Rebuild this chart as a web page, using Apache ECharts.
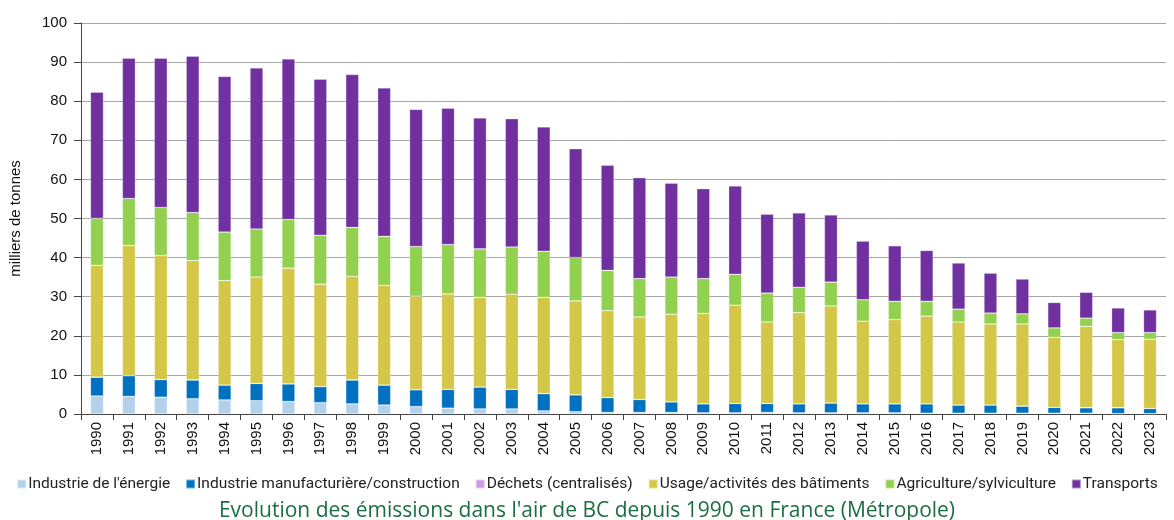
<!DOCTYPE html>
<html><head><meta charset="utf-8">
<script src="https://cdn.jsdelivr.net/npm/echarts@6/dist/echarts.min.js"></script>
<style>html,body{margin:0;padding:0;background:#fff}#c{width:1174px;height:520px}</style>
</head><body><div id="c"></div>
<script>
const years = ['1990','1991','1992','1993','1994','1995','1996','1997','1998','1999','2000','2001','2002','2003','2004','2005','2006','2007','2008','2009','2010','2011','2012','2013','2014','2015','2016','2017','2018','2019','2020','2021','2022','2023'];
const energie = [4.6,4.5,4.3,3.9,3.6,3.4,3.2,2.9,2.6,2.3,1.9,1.5,1.3,1.3,0.8,0.6,0.4,0.4,0.4,0.3,0.3,0.4,0.3,0.3,0.3,0.3,0.2,0.2,0.2,0.2,0.2,0.2,0.1,0.1];
const industrie = [4.8,5.3,4.5,4.8,3.8,4.4,4.5,4.1,6.1,5.1,4.3,4.8,5.6,5.0,4.4,4.3,3.8,3.3,2.7,2.3,2.4,2.3,2.3,2.5,2.3,2.3,2.4,2.1,2.1,1.8,1.5,1.4,1.5,1.3];
const dechets = [0.02,0.02,0.02,0.02,0.02,0.02,0.02,0.02,0.02,0.02,0.02,0.02,0.02,0.02,0.02,0.02,0.02,0.02,0.02,0.02,0.02,0.02,0.02,0.02,0.02,0.02,0.02,0.02,0.02,0.02,0.02,0.02,0.02,0.02];
const batiments = [28.6,33.3,31.7,30.5,26.7,27.2,29.6,26.2,26.5,25.5,23.9,24.4,22.9,24.3,24.6,24.0,22.2,21.1,22.4,23.1,25.1,20.8,23.3,24.8,21.1,21.5,22.4,21.2,20.7,21.0,17.9,20.8,17.4,17.7];
const agriculture = [12.0,12.0,12.3,12.3,12.4,12.3,12.4,12.5,12.5,12.5,12.7,12.6,12.4,12.1,11.8,11.1,10.3,9.8,9.5,8.9,7.9,7.4,6.5,6.1,5.5,4.7,3.8,3.3,2.8,2.6,2.4,2.1,1.8,1.7];
const transports = [32.3,35.9,38.2,40.0,39.8,41.2,41.1,39.9,39.1,38.0,35.1,34.9,33.5,32.8,31.8,27.8,26.9,25.8,24.0,23.0,22.6,20.2,19.0,17.2,15.0,14.2,13.0,11.8,10.2,8.9,6.5,6.6,6.3,5.8];
const yTicks = [0,10,20,30,40,50,60,70,80,90,100];

const names = ["Industrie de l'énergie","Industrie manufacturière/construction","Déchets (centralisés)","Usage/activités des bâtiments","Agriculture/sylviculture","Transports"];
const colors = ['#b4d1ec','#0070c0','#d29be3','#d4c646','#92d050','#7030a0'];
const datas = [energie, industrie, dechets, batiments, agriculture, transports];

const series = datas.map((d,i)=>({
  name: names[i], type:'bar', stack:'total', data:d, barWidth:13,
  itemStyle:{color:colors[i], borderColor:'rgba(255,255,255,0.45)', borderWidth:0.6},
  emphasis:{disabled:true}
}));

const chart = echarts.init(document.getElementById('c'), null, {renderer:'canvas'});
chart.setOption({
  animation:false,
  textStyle:{fontFamily:'Liberation Sans, Arial, sans-serif'},
  title:{text:"Evolution des émissions dans l'air de BC depuis 1990 en France (Métropole)", left:'center', top:496,
    textStyle:{color:'#1c6e42', fontSize:21, fontWeight:'normal', fontFamily:'Open Sans, sans-serif'}},
  legend:{data:names, top:471, left:'center', itemWidth:9, itemHeight:9, itemGap:15, icon:'rect',
    textStyle:{fontSize:15.5, color:'#222', fontFamily:'Roboto, sans-serif', padding:[0,0,0,-3]}},
  grid:{left:76, right:8, top:23, bottom:106, containLabel:false},
  xAxis:{type:'category', data:years,
    axisLine:{lineStyle:{color:'#444', width:1}},
    axisTick:{show:true, length:6, lineStyle:{color:'#444'}},
    axisLabel:{rotate:90, fontSize:15, color:'#111', margin:8}},
  yAxis:{type:'value', min:0, max:100, interval:10, name:'milliers de tonnes', nameLocation:'middle', nameGap:58,
    nameTextStyle:{fontSize:15, color:'#111'},
    axisLine:{show:true, lineStyle:{color:'#444'}},
    axisTick:{show:true, length:7, lineStyle:{color:'#444'}},
    axisLabel:{fontSize:15, color:'#111', margin:14, customValues:yTicks},
    splitLine:{lineStyle:{color:'#a6a6a6', width:1}}},
  series: series
});
</script></body></html>
